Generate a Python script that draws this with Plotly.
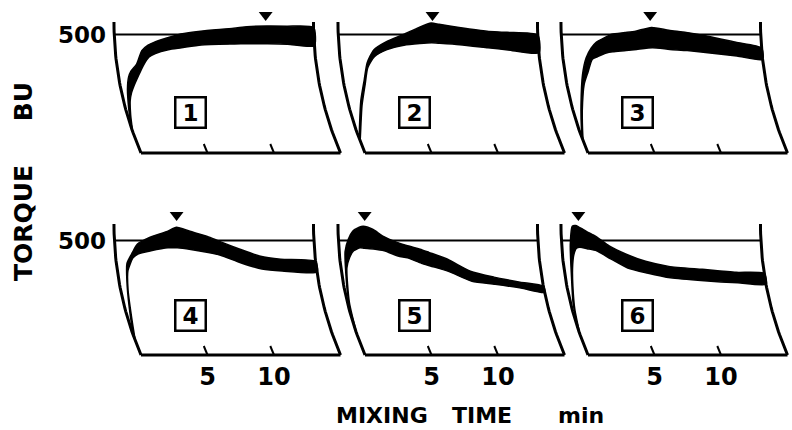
import numpy as np
import plotly.graph_objects as go

# ---------------- data (minutes, Brabender units) ----------------
panel_ids = ["1", "2", "3", "4", "5", "6"]

t1 = [0, 0.25, 0.5, 0.75, 1.0, 1.5, 2.0, 2.5, 3.0, 4.0, 5.0, 6.5, 9.0, 10.0, 11.5, 13.0, 15.0]
up1 = [110, 190, 270, 320, 345, 375, 432, 455, 468, 486, 502, 514, 526, 533, 536, 535, 530]
lo1 = [90, 160, 220, 255, 280, 325, 370, 405, 420, 436, 444, 456, 460, 461, 461, 459, 453]

t2 = [0, 0.4, 1.0, 1.6, 2.0, 2.6, 3.6, 4.9, 6.1, 7.0, 7.6, 9.1, 11.2, 12.7, 15.0]
up2 = [60, 120, 220, 310, 380, 435, 470, 500, 530, 548, 543, 530, 514, 509, 497]
lo2 = [50, 105, 200, 290, 360, 406, 436, 455, 462, 465, 463, 457, 444, 435, 423]

t3 = [0, 0.25, 0.7, 1.3, 1.75, 2.2, 2.6, 3.3, 3.8, 4.8, 5.6, 6.8, 8.1, 9.4, 11.1, 13.1, 15.0]
up3 = [60, 110, 200, 330, 402, 443, 467, 488, 501, 508, 514, 530, 518, 509, 492, 467, 443]
lo3 = [50, 95, 180, 290, 342, 396, 406, 422, 427, 432, 437, 444, 437, 432, 422, 409, 395]

t4 = [0, 0.25, 0.55, 0.8, 1.3, 1.7, 2.7, 4.0, 4.7, 5.7, 7.0, 7.9, 9.4, 10.9, 12.4, 15.0]
up4 = [80, 170, 300, 400, 448, 483, 514, 540, 558, 540, 518, 496, 462, 431, 418, 408]
lo4 = [60, 140, 280, 368, 424, 441, 455, 468, 468, 461, 448, 436, 402, 376, 367, 362]

t5 = [0, 0.15, 0.45, 0.75, 1.1, 1.6, 1.9, 2.6, 3.4, 4.4, 5.1, 6.1, 6.75, 8.1, 9.7, 11.4, 13.3, 15.0]
up5 = [120, 260, 452, 505, 540, 558, 562, 549, 518, 492, 478, 462, 448, 418, 366, 340, 318, 300]
lo5 = [90, 230, 380, 426, 455, 468, 466, 463, 455, 432, 424, 401, 389, 364, 322, 309, 292, 273]

t6 = [0, 0.2, 0.45, 0.65, 0.85, 1.1, 1.35, 1.6, 1.9, 2.6, 3.6, 4.8, 6.2, 7.9, 10.4, 12.9, 15.0]
up6 = [120, 230, 330, 480, 562, 565, 558, 551, 540, 518, 475, 440, 409, 387, 374, 361, 356]
lo6 = [90, 200, 300, 380, 436, 466, 471, 468, 464, 455, 420, 380, 358, 337, 324, 315, 309]

peak_times = [11.4, 7.1, 6.7, 4.7, 2.0, 1.3]
tick_minutes = [5, 10]
tick_labels = ["5", "10"]
ref_torque = 500
chart_minutes = 15

times = [t1, t2, t3, t4, t5, t6]
uppers = [up1, up2, up3, up4, up5, up6]
lowers = [lo1, lo2, lo3, lo4, lo5, lo6]

# ---------------- geometry ----------------
W, H = 792, 430
PX_PER_MIN = 13.3
COL_X0 = [141, 365, 588]        # pixel of t=0 at chart base
ROW_BASE = [153, 355]           # pixel of 0 BU
ROW_PX_PER_BU = [0.237, 0.229]
ARC_R = 331.0                   # radius of recorder pen arc (px)
ARC_H = 131.0                   # arc height (px)
ARC_DX = ARC_R - np.sqrt(ARC_R ** 2 - ARC_H ** 2)
XR = [-2.4, 15.3]
YR = [-20, 640]
TRI_BU = [582, 611]
BOX_POS = (3.75, 173)
TICK_H_PX = 9

FONT = "DejaVu Sans"
INK = "black"


def skew(bu, row):
    h = np.asarray(bu, dtype=float) * ROW_PX_PER_BU[row]
    return (-ARC_DX + ARC_R - np.sqrt(ARC_R ** 2 - (ARC_H - h) ** 2)) / PX_PER_MIN


fig = go.Figure()
layout = {}
annotations = []

for k in range(6):
    row, col = divmod(k, 3)
    sy = ROW_PX_PER_BU[row]
    xa = "x" if k == 0 else f"x{k+1}"
    ya = "y" if k == 0 else f"y{k+1}"
    xl = "xaxis" if k == 0 else f"xaxis{k+1}"
    yl = "yaxis" if k == 0 else f"yaxis{k+1}"

    left_px = COL_X0[col] + XR[0] * PX_PER_MIN
    right_px = COL_X0[col] + XR[1] * PX_PER_MIN
    top_px = ROW_BASE[row] - YR[1] * sy
    bot_px = ROW_BASE[row] - YR[0] * sy
    layout[xl] = dict(domain=[left_px / W, right_px / W], range=XR, anchor=ya,
                      showgrid=False, zeroline=False, showline=False,
                      ticks="", fixedrange=True,
                      showticklabels=(row == 1),
                      tickvals=tick_minutes, ticktext=tick_labels,
                      tickfont=dict(family=FONT, size=24, color=INK, weight="bold"))
    layout[yl] = dict(domain=[1 - bot_px / H, 1 - top_px / H], range=YR, anchor=xa,
                      showgrid=False, zeroline=False, showline=False,
                      showticklabels=False, ticks="", fixedrange=True)

    # frame: arcs, base, reference line, ticks
    arc_top_bu = ARC_H / sy
    bu_arc = np.linspace(0, arc_top_bu, 40)
    sk = skew(bu_arc, row)
    frame = [
        (sk, bu_arc, 3),
        (chart_minutes + sk, bu_arc, 3),
        ([0, chart_minutes], [0, 0], 3),
        ([skew(ref_torque, row), chart_minutes + skew(ref_torque, row)],
         [ref_torque, ref_torque], 2),
    ]
    bu_tick = np.linspace(0, TICK_H_PX / sy, 5)
    for tm in tick_minutes:
        frame.append((tm + skew(bu_tick, row), bu_tick, 2))
    for fx, fy, lw in frame:
        fig.add_trace(go.Scatter(x=list(fx), y=list(fy), xaxis=xa, yaxis=ya,
                                 mode="lines", line=dict(color=INK, width=lw),
                                 hoverinfo="skip", showlegend=False))

    # torque band
    t = np.array(times[k], dtype=float)
    up = np.array(uppers[k], dtype=float)
    lo = np.array(lowers[k], dtype=float)
    bx = np.concatenate([t + skew(up, row), (t + skew(lo, row))[::-1]])
    by = np.concatenate([up, lo[::-1]])
    fig.add_trace(go.Scatter(x=bx, y=by, xaxis=xa, yaxis=ya, mode="lines",
                             fill="toself", fillcolor=INK,
                             line=dict(color=INK, width=1.5, shape="spline", smoothing=0.6),
                             hoverinfo="skip", showlegend=False))

    # peak marker
    fig.add_trace(go.Scatter(x=[peak_times[k] + float(skew(TRI_BU[row], row))],
                             y=[TRI_BU[row]], xaxis=xa, yaxis=ya, mode="markers",
                             marker=dict(symbol="triangle-down", size=12, color=INK),
                             cliponaxis=False, hoverinfo="skip", showlegend=False))

    # panel number box
    annotations.append(dict(x=BOX_POS[0], y=BOX_POS[1], xref=xa, yref=ya,
                            text=panel_ids[k], showarrow=False,
                            font=dict(family=FONT, size=23, color=INK, weight="bold"),
                            bordercolor=INK, borderwidth=2.5, borderpad=0,
                            width=28, height=28, align="center", valign="middle"))

    if col == 0:
        annotations.append(dict(x=float(skew(ref_torque, row)), y=ref_torque,
                                xref=xa, yref=ya, text="500", showarrow=False,
                                xanchor="right", yanchor="middle", xshift=-6,
                                font=dict(family=FONT, size=23, color=INK, weight="bold")))

annotations.append(dict(x=24 / W, y=1 - 182 / H, xref="paper", yref="paper",
                        text="TORQUE\u00a0\u00a0\u00a0\u00a0\u00a0BU", textangle=-90,
                        showarrow=False, xanchor="center", yanchor="middle",
                        font=dict(family=FONT, size=25, color=INK, weight="bold")))
for word, xl_px in [("MIXING", 334), ("TIME", 450), ("min", 556)]:
    annotations.append(dict(x=xl_px / W, y=1 - 415 / H, xref="paper", yref="paper",
                            text=word, showarrow=False, xanchor="left", yanchor="middle",
                            font=dict(family=FONT, size=22, color=INK, weight="bold")))

fig.update_layout(width=W, height=H, margin=dict(l=0, r=0, t=0, b=0),
                  paper_bgcolor="white", plot_bgcolor="rgba(0,0,0,0)",
                  showlegend=False, annotations=annotations, **layout)

fig.write_html("out.html")
